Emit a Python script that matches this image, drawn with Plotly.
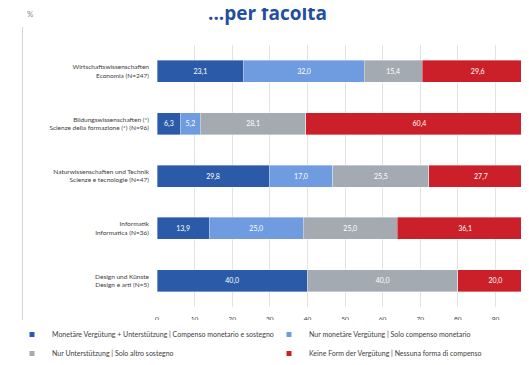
import plotly.graph_objects as go

categories = [
    "Wirtschaftswissenschaften<br>Economia (N=247)",
    "Bildungswissenschaften (*)<br>Scienze della formazione (*) (N=96)",
    "Naturwissenschaften und Technik<br>Scienze e tecnologie (N=47)",
    "Informatik<br>Informatica (N=36)",
    "Design und Künste<br>Design e arti (N=5)",
]
series_names = [
    "Monetäre Vergütung + Unterstützung | Compenso monetario e sostegno",
    "Nur monetäre Vergütung | Solo compenso monetario",
    "Nur Unterstützung | Solo altro sostegno",
    "Keine Form der Vergütung | Nessuna forma di compenso",
]
monetary_support = [23.1, 6.3, 29.8, 13.9, 40.0]
monetary_only = [32.0, 5.2, 17.0, 25.0, None]
support_only = [15.4, 28.1, 25.5, 25.0, 40.0]
no_compensation = [29.6, 60.4, 27.7, 36.1, 20.0]
tick_values = [0, 10, 20, 30, 40, 50, 60, 70, 80, 90, 100]

series_values = [monetary_support, monetary_only, support_only, no_compensation]
colors = ["#2b5ba8", "#6f9be0", "#a4aab2", "#cb1f2a"]

FONT = "Lato"

def fmt(v):
    return "" if v is None else f"{v:.1f}".replace(".", ",")

fig = go.Figure()
for name, vals, col in zip(series_names, series_values, colors):
    fig.add_trace(go.Bar(
        y=categories, x=vals, orientation="h", name=name,
        marker=dict(color=col, line=dict(color="rgba(255,255,255,0.6)", width=0.6)),
        text=[fmt(v) for v in vals], textposition="inside", insidetextanchor="middle",
        textfont=dict(family=FONT, size=7, color="white"),
        showlegend=False, hoverinfo="skip",
    ))
# legend proxies (small square markers)
for name, col in zip(series_names, colors):
    fig.add_trace(go.Scatter(
        x=[None], y=[None], mode="markers", name=name,
        marker=dict(symbol="square", size=5, color=col),
    ))

# page body adds an 8px offset; layout coordinates below compensate
W, H = 529, 365
L, R, T, B = 149, 4, 37, 66
pw, ph = W - L - R, H - T - B

def px_x(x):
    return (x - L) / pw

def px_y(y):
    return (H - B - y) / ph

fig.update_layout(
    width=W, height=H,
    margin=dict(l=L, r=R, t=T, b=B, autoexpand=False),
    barmode="stack", bargap=0.58,
    plot_bgcolor="white", paper_bgcolor="white",
    font=dict(family=FONT, size=7, color="#404040"),
    xaxis=dict(range=[0, 100], tickvals=tick_values, showgrid=True,
               gridcolor="#e3e3e3", gridwidth=1, zeroline=False,
               tickfont=dict(family=FONT, size=6.5, color="#404040"),
               ticks="", ticklabelstandoff=6),
    yaxis=dict(categoryorder="array", categoryarray=categories[::-1],
               tickfont=dict(family=FONT, size=6.5, color="#404040"),
               ticks="", ticklabelstandoff=7, showgrid=False),
    legend=dict(orientation="h", x=px_x(4), y=px_y(312), xanchor="left", yanchor="top",
                entrywidth=212, entrywidthmode="pixels", itemwidth=30,
                traceorder="normal",
                font=dict(family=FONT, size=7, color="#404040"), tracegroupgap=0),
    annotations=[
        dict(text="<b>...per facoltà</b>", x=px_x(259), y=px_y(5), xref="paper", yref="paper",
             xanchor="center", yanchor="middle", showarrow=False,
             font=dict(family="Open Sans", size=19, color="#1f4fa0")),
        dict(text="%", x=px_x(22), y=px_y(6), xref="paper", yref="paper",
             xanchor="center", yanchor="middle", showarrow=False,
             font=dict(family=FONT, size=8, color="#8a8a8a")),
    ],
    shapes=[
        dict(type="line", xref="paper", yref="paper", x0=px_x(14.5), x1=px_x(14.5),
             y0=px_y(19), y1=px_y(365), line=dict(color="#d6d6d6", width=1)),
    ],
)

fig.write_html("out.html")
